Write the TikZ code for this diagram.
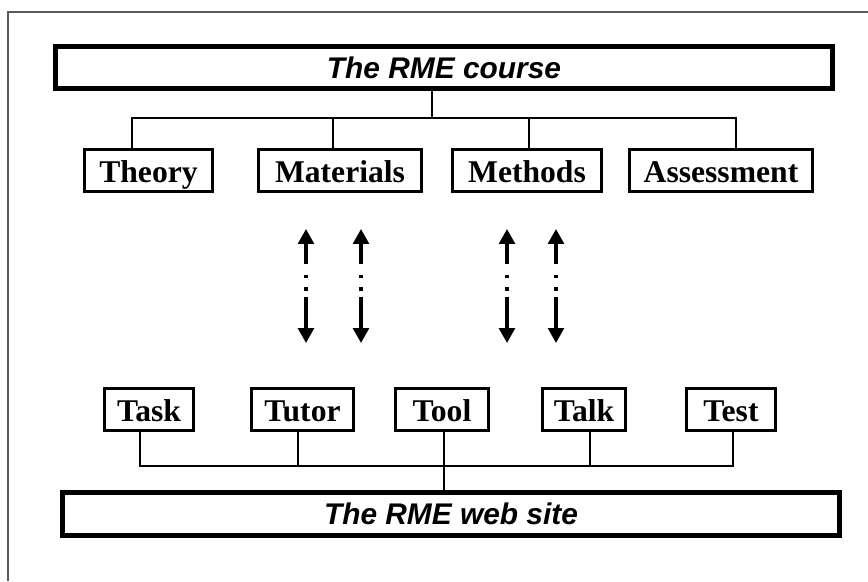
\documentclass[tikz,border=0pt]{standalone}
\usepackage{fontspec}
\setmainfont{Liberation Serif}
\newfontfamily\rmehead{Liberation Sans}
\usetikzlibrary{arrows.meta}

\begin{document}
\begin{tikzpicture}[x=0.02cm, y=-0.02cm]
	\tikzset{bigbox/.style={draw, line width=2.8pt, inner sep=0pt, minimum width=15.54cm, minimum height=0.85cm, text height=12.2pt, text depth=0pt, font=\rmehead\bfseries\itshape\fontsize{17}{20}\selectfont},
		part/.style={draw, line width=1.7pt, inner sep=0pt, minimum height=0.85cm, text height=13.2pt, text depth=0pt, font=\bfseries\fontsize{18}{21}\selectfont},
		wire/.style={line width=1.6pt},
		link/.style={line width=1.8pt, {Triangle[width=9pt,length=8.5pt]}-{Triangle[width=9pt,length=8.5pt]}, dash pattern=on 12pt off 6pt on 2pt off 5pt on 2pt off 3.5pt on 40pt} }

	\useasboundingbox (0,0) rectangle (868,581);
	\draw[black!65, line width=1.1pt] (8,581) -- (8,12) -- (868,12);

	% the course and its four parts
	\node[bigbox]	(course)	at (444,67.5)	{The RME course};
	\node[part, minimum width=2.56cm]	(theory)	at (148.5,170.5)	{Theory};
	\node[part, minimum width=3.26cm]	(materials)	at (340,170.5)	{Materials};
	\node[part, minimum width=2.98cm]	(methods)	at (527,170.5)	{Methods};
	\node[part, minimum width=3.66cm]	(assessment)	at (721,170.5)	{Assessment};

	% the web site and its five parts
	\node[part, minimum width=1.78cm]	(task)	at (149,409.5)	{Task};
	\node[part, minimum width=2.04cm]	(tutor)	at (302.5,409.5)	{Tutor};
	\node[part, minimum width=1.86cm]	(tool)	at (442,409.5)	{Tool};
	\node[part, minimum width=1.66cm]	(talk)	at (584,409.5)	{Talk};
	\node[part, minimum width=1.78cm]	(test)	at (731,409.5)	{Test};
	\node[bigbox]	(site)	at (451,514)	{The RME web site};

	\coordinate (c0) at (432,118);
	\coordinate (c1) at (132,118);
	\coordinate (c2) at (333,118);
	\coordinate (c3) at (529,118);
	\coordinate (c4) at (736,118);
	\coordinate (s0) at (444,466);
	\coordinate (s1) at (140,466);
	\coordinate (s2) at (298,466);
	\coordinate (s3) at (590,466);
	\coordinate (s4) at (733,466);

	\draw[wire] (c0 |- course.south) -- (c0);
	\draw[wire] (c1 |- theory.north) -- (c1) -- (c4) -- (c4 |- assessment.north);
	\draw[wire] (c2) -- (c2 |- materials.north);
	\draw[wire] (c3) -- (c3 |- methods.north);

	\draw[wire] (s1 |- task.south) -- (s1) -- (s4) -- (s4 |- test.south);
	\draw[wire] (s2) -- (s2 |- tutor.south);
	\draw[wire] (s3) -- (s3 |- talk.south);
	\draw[wire] (s0 |- tool.south) -- (s0 |- site.north);

	% links between the two
	\coordinate (a1) at (306,229);	\coordinate (b1) at (306,343);
	\coordinate (a2) at (361,229);	\coordinate (b2) at (361,343);
	\coordinate (a3) at (507,229);	\coordinate (b3) at (507,343);
	\coordinate (a4) at (556,229);	\coordinate (b4) at (556,343);
	\draw[link] (a1) -- (b1);
	\draw[link] (a2) -- (b2);
	\draw[link] (a3) -- (b3);
	\draw[link] (a4) -- (b4);
\end{tikzpicture}
\end{document}
